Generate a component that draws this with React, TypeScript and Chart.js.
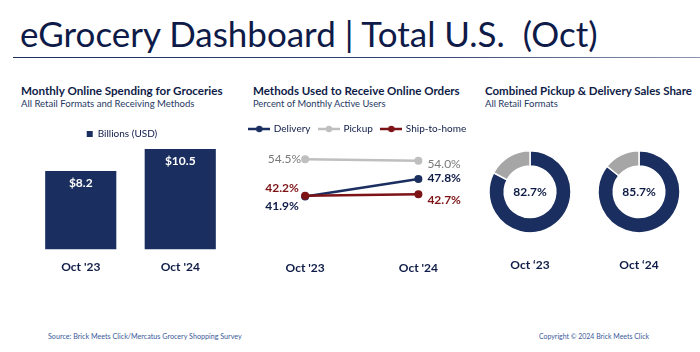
import React, { useEffect, useLayoutEffect, useRef } from "react";
import { Chart, registerables } from "chart.js";

Chart.register(...registerables);

// ---------------- data ----------------
const periods = ["Oct '23", "Oct '24"];
const donutPeriods = ["Oct \u201823", "Oct \u201824"];

const spendingSeriesName = "Billions (USD)";
const spendingBillions = [8.2, 10.5];

const methodNames = ["Delivery", "Pickup", "Ship-to-home"];
const deliveryPct = [41.9, 47.8];
const pickupPct = [54.5, 54.0];
const shipToHomePct = [42.2, 42.7];

const shareSegments = ["Pickup & Delivery", "Other"];
const shareOct23 = [82.7, 17.3];
const shareOct24 = [85.7, 14.3];

// ---------------- styles ----------------
const FONT = "Lato, 'Open Sans', 'Noto Sans', sans-serif";
const NAVY = "#1a2f5f";
const DARK = "#0f1c47";
const SUB = "#1f3864";
const GREY_LINE = "#bfbfbf";
const GREY_TEXT = "#7a7a7a";
const GREY_DONUT = "#a6a6a6";
const RED = "#7d1316";
const FOOT = "#3a5a9a";

// ---------------- helpers ----------------
type TxtProps = {
  text: string;
  x: number;
  baseline: number;
  size: number;
  weight?: number;
  color: string;
  fit?: number;
};

function Txt({ text, x, baseline, size, weight = 400, color, fit }: TxtProps) {
  const ref = useRef<HTMLDivElement>(null);
  useLayoutEffect(() => {
    const el = ref.current;
    if (!el || !fit) return;
    const w = el.offsetWidth;
    if (w > 0) el.style.transform = `scaleX(${fit / w})`;
  }, [fit, text]);
  return (
    <div
      ref={ref}
      style={{
        position: "absolute",
        left: x,
        top: baseline - 0.887 * size,
        fontFamily: FONT,
        fontSize: size,
        lineHeight: `${size}px`,
        fontWeight: weight,
        color,
        whiteSpace: "pre",
        transformOrigin: "left top",
      }}
    >
      {text}
    </div>
  );
}

const hiddenGrid = { display: false, drawTicks: false };
const hiddenBorder = { display: false };

// ---------------- bar chart ----------------
const barValuePlugin = {
  id: "barValues",
  afterDatasetsDraw(chart: any) {
    const ctx = chart.ctx;
    const meta = chart.getDatasetMeta(0);
    const values = chart.data.datasets[0].data as number[];
    ctx.save();
    ctx.font = `bold 12px ${FONT}`;
    ctx.fillStyle = "#ffffff";
    ctx.textAlign = "center";
    ctx.textBaseline = "middle";
    meta.data.forEach((bar: any, i: number) => {
      ctx.fillText(`$${values[i].toFixed(1)}`, bar.x, bar.y + 12.5);
    });
    ctx.restore();
  },
};

function SpendingChart() {
  const ref = useRef<HTMLCanvasElement>(null);
  useEffect(() => {
    const chart = new Chart(ref.current!, {
      type: "bar",
      data: {
        labels: periods,
        datasets: [
          {
            label: spendingSeriesName,
            data: spendingBillions,
            backgroundColor: NAVY,
            borderWidth: 0,
            categoryPercentage: 1,
            barPercentage: 0.715,
          },
        ],
      },
      options: {
        animation: false,
        responsive: false,
        layout: { padding: 0 },
        plugins: {
          legend: {
            display: true,
            labels: {
              boxWidth: 6,
              boxHeight: 6,
              padding: 10,
              color: DARK,
              font: { family: FONT, size: 10 },
            },
          },
          tooltip: { enabled: false },
        },
        scales: {
          x: {
            grid: hiddenGrid,
            border: hiddenBorder,
            ticks: { color: DARK, padding: 10, font: { family: FONT, size: 12, weight: "bold" } },
          },
          y: {
            min: 0,
            max: 10.5,
            grid: hiddenGrid,
            border: hiddenBorder,
            ticks: { display: false },
            afterFit: (s: any) => {
              s.width = 17;
            },
          },
        },
      } as any,
      plugins: [barValuePlugin],
    });
    return () => chart.destroy();
  }, []);
  return (
    <canvas
      ref={ref}
      width={216}
      height={165}
      style={{ position: "absolute", left: 14, top: 119, width: 216, height: 165 }}
    />
  );
}

// ---------------- line chart ----------------
function legendMarker(color: string) {
  const c = document.createElement("canvas");
  c.width = 22;
  c.height = 8;
  const g = c.getContext("2d")!;
  g.strokeStyle = color;
  g.lineWidth = 2.5;
  g.beginPath();
  g.moveTo(0, 4);
  g.lineTo(22, 4);
  g.stroke();
  g.fillStyle = color;
  g.beginPath();
  g.arc(11, 4, 3.2, 0, Math.PI * 2);
  g.fill();
  return c;
}

const lineLabelPlugin = {
  id: "lineLabels",
  afterDatasetsDraw(chart: any) {
    const ctx = chart.ctx;
    chart.data.datasets.forEach((ds: any, di: number) => {
      const meta = chart.getDatasetMeta(di);
      ctx.save();
      ctx.font = `${ds.labelWeight} 12px ${FONT}`;
      ctx.fillStyle = ds.labelColor;
      ctx.textBaseline = "middle";
      meta.data.forEach((pt: any, i: number) => {
        const p = ds.labelPlacement[i];
        ctx.textAlign = p.align;
        ctx.fillText(`${(ds.data[i] as number).toFixed(1)}%`, pt.x + p.dx, pt.y + p.dy);
      });
      ctx.restore();
    });
  },
};

function MethodsChart() {
  const ref = useRef<HTMLCanvasElement>(null);
  useEffect(() => {
    const markers = [legendMarker(NAVY), legendMarker(GREY_LINE), legendMarker(RED)];
    const base = {
      borderWidth: 2.5,
      pointRadius: 4,
      pointHoverRadius: 4,
      pointBorderWidth: 0,
      tension: 0,
    };
    const chart = new Chart(ref.current!, {
      type: "line",
      data: {
        labels: periods,
        datasets: [
          {
            ...base,
            label: methodNames[0],
            data: deliveryPct,
            borderColor: NAVY,
            backgroundColor: NAVY,
            order: 1,
            labelColor: DARK,
            labelWeight: "bold",
            labelPlacement: [
              { dx: -23, dy: 10, align: "center" },
              { dx: 9, dy: -1, align: "left" },
            ],
          },
          {
            ...base,
            label: methodNames[1],
            data: pickupPct,
            borderColor: GREY_LINE,
            backgroundColor: GREY_LINE,
            order: 2,
            labelColor: GREY_TEXT,
            labelWeight: "normal",
            labelPlacement: [
              { dx: -4, dy: 0, align: "right" },
              { dx: 9, dy: 3, align: "left" },
            ],
          },
          {
            ...base,
            label: methodNames[2],
            data: shipToHomePct,
            borderColor: RED,
            backgroundColor: RED,
            order: 0,
            labelColor: RED,
            labelWeight: "bold",
            labelPlacement: [
              { dx: -23, dy: -8, align: "center" },
              { dx: 9, dy: 6, align: "left" },
            ],
          },
        ] as any,
      },
      options: {
        animation: false,
        responsive: false,
        layout: { padding: 0 },
        plugins: {
          legend: {
            display: true,
            labels: {
              usePointStyle: true,
              pointStyleWidth: 19,
              padding: 9,
              color: DARK,
              font: { family: FONT, size: 10 },
              generateLabels: (c: any) =>
                Chart.defaults.plugins.legend.labels
                  .generateLabels(c)
                  .sort((a: any, b: any) => a.datasetIndex - b.datasetIndex)
                  .map((item: any) => ({ ...item, pointStyle: markers[item.datasetIndex] })),
            },
          },
          tooltip: { enabled: false },
        },
        scales: {
          x: {
            offset: true,
            grid: hiddenGrid,
            border: hiddenBorder,
            ticks: { color: DARK, padding: 10, font: { family: FONT, size: 12, weight: "bold" } },
          },
          y: {
            min: 23.7,
            max: 59.6,
            grid: hiddenGrid,
            border: hiddenBorder,
            ticks: { display: false },
            afterFit: (s: any) => {
              s.width = 15.5;
            },
          },
          yRight: {
            position: "right",
            grid: hiddenGrid,
            border: hiddenBorder,
            ticks: { display: false },
            afterFit: (s: any) => {
              s.width = 8;
            },
          },
        },
      } as any,
      plugins: [lineLabelPlugin],
    });
    return () => chart.destroy();
  }, []);
  return (
    <canvas
      ref={ref}
      width={250}
      height={170}
      style={{ position: "absolute", left: 233, top: 115, width: 250, height: 170 }}
    />
  );
}

// ---------------- doughnuts ----------------
const centerTextPlugin = {
  id: "centerText",
  afterDatasetsDraw(chart: any) {
    const { ctx, chartArea } = chart;
    const v = chart.data.datasets[0].data[0] as number;
    ctx.save();
    ctx.font = `bold 12px ${FONT}`;
    ctx.fillStyle = DARK;
    ctx.textAlign = "center";
    ctx.textBaseline = "middle";
    ctx.fillText(`${v.toFixed(1)}%`, (chartArea.left + chartArea.right) / 2, (chartArea.top + chartArea.bottom) / 2);
    ctx.restore();
  },
};

function ShareDonut({ values, period, left }: { values: number[]; period: string; left: number }) {
  const ref = useRef<HTMLCanvasElement>(null);
  useEffect(() => {
    const chart = new Chart(ref.current!, {
      type: "doughnut",
      data: {
        labels: shareSegments,
        datasets: [
          {
            data: values,
            backgroundColor: [NAVY, GREY_DONUT],
            borderColor: "#ffffff",
            borderWidth: 1.5,
          },
        ],
      },
      options: {
        animation: false,
        responsive: false,
        radius: 41,
        cutout: 31,
        layout: { padding: 0 },
        plugins: {
          legend: { display: false },
          tooltip: { enabled: false },
          title: {
            display: true,
            position: "bottom",
            text: period,
            color: DARK,
            padding: { top: 14, bottom: 0 },
            font: { family: FONT, size: 12, weight: "bold" },
          },
        },
      } as any,
      plugins: [centerTextPlugin],
    });
    return () => chart.destroy();
  }, [values, period]);
  return (
    <canvas
      ref={ref}
      width={100}
      height={132}
      style={{ position: "absolute", left, top: 140, width: 100, height: 132 }}
    />
  );
}

// ---------------- app ----------------
export default function App() {
  return (
    <div
      style={{
        position: "absolute",
        left: 0,
        top: 0,
        width: 700,
        height: 352,
        background: "#ffffff",
        overflow: "hidden",
      }}
    >
      <Txt text="eGrocery Dashboard | Total U.S.  (Oct)" x={20} baseline={47} size={34} color="#0e1a48" fit={578} />
      <div
        style={{
          position: "absolute",
          left: 13,
          top: 56.5,
          width: 687,
          height: 1.5,
          background: "linear-gradient(to right, #1c2f5e, #33466f 60%, #8c96b0)",
        }}
      />

      <Txt text="Monthly Online Spending for Groceries" x={21} baseline={95} size={11} weight={700} color={DARK} fit={202} />
      <Txt text="All Retail Formats and Receiving Methods" x={21} baseline={107.3} size={9.5} color={SUB} fit={173} />

      <Txt text="Methods Used to Receive Online Orders" x={253} baseline={95} size={11} weight={700} color={DARK} fit={207} />
      <Txt text="Percent of Monthly Active Users" x={253} baseline={107.3} size={9.5} color={SUB} fit={133} />

      <Txt text="Combined Pickup & Delivery Sales Share" x={485} baseline={95} size={11} weight={700} color={DARK} fit={207} />
      <Txt text="All Retail Formats" x={485} baseline={107.3} size={9.5} color={SUB} fit={73} />

      <SpendingChart />
      <MethodsChart />
      <ShareDonut values={shareOct23} period={donutPeriods[0]} left={480} />
      <ShareDonut values={shareOct24} period={donutPeriods[1]} left={589} />

      <Txt text="Source: Brick Meets Click/Mercatus Grocery Shopping Survey" x={47.5} baseline={340} size={7.5} color={FOOT} fit={194} />
      <Txt text="Copyright © 2024 Brick Meets Click" x={539} baseline={340} size={7.5} color={FOOT} fit={110} />
    </div>
  );
}
